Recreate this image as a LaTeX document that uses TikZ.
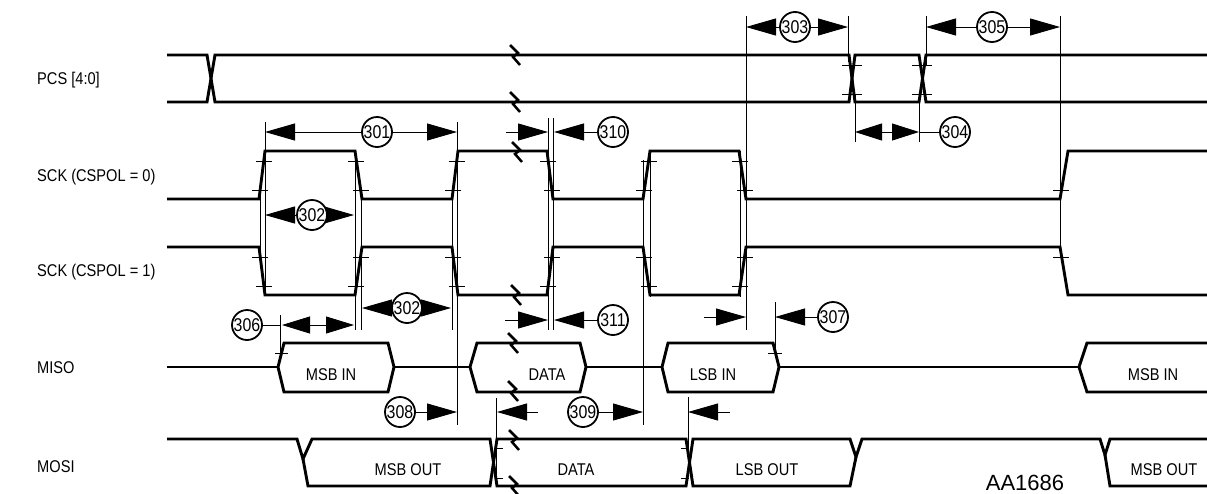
\documentclass[tikz,border=0pt]{standalone}
\usepackage{fontspec}
\setmainfont[FakeStretch=0.86]{Liberation Sans}
\newfontfamily\aafnt{Liberation Sans}
\usetikzlibrary{arrows.meta}
\newcommand{\lblfnt}{\fontsize{17}{19}\selectfont}
\newcommand{\numfnt}{\fontsize{18.5}{20}\selectfont}
\begin{document}
\begin{tikzpicture}[x=1pt,y=-1pt,
  sig/.style={line width=2.9pt},
  thinl/.style={line width=0.8pt},
  dim/.style={line width=0.9pt},
  brkl/.style={line width=2.5pt},
  tri/.tip={Triangle[length=30pt,width=17pt]},
  trs/.tip={Triangle[length=27pt,width=17pt]},
  num/.style={circle,draw,line width=1.8pt,fill=white,minimum size=30pt,inner sep=0pt,font=\numfnt},
  lbl/.style={anchor=base west,font=\lblfnt,inner sep=0pt},
  txt/.style={anchor=base,font=\lblfnt,inner sep=0pt}
]
\useasboundingbox (0,0) rectangle (1207,493);

% labels
\node[lbl] (lpcs) at (37,84) {PCS [4:0]};
\node[lbl] (lsck0) at (37,181) {SCK (CSPOL = 0)};
\node[lbl] (lsck1) at (37,276) {SCK (CSPOL = 1)};
\node[lbl] (lmiso) at (37,373) {MISO};
\node[lbl] (lmosi) at (37,472) {MOSI};

% thin reference lines
\foreach \x/\a/\b in {260/188/258, 265/122/295, 355/151/330, 361/190/330,
  452/190/330, 457/122/425, 548/118/330, 553/118/330, 643/160/425,
  650/151/297, 740/151/297, 746/16/330, 775/302/353, 280/315/353,
  496/398/487, 688/397/477, 848/16/62, 855/94/142, 919/94/142,
  926/16/65, 1060/16/257}
  \draw[thinl] (\x,\a) -- (\x,\b);

% PCS
\draw[sig] (167,55) -- (207,55) -- (215,102) -- (849,102) -- (855,55) -- (919,55) -- (926,102) -- (1207,102);
\draw[sig] (167,102) -- (207,102) -- (215,55) -- (849,55) -- (855,102) -- (919,102) -- (926,55) -- (1207,55);
\foreach \x in {852,922} {\draw[thinl] (\x-10,65) -- (\x+10,65); \draw[thinl] (\x-10,94) -- (\x+10,94);}

% SCK CSPOL=0
\draw[sig] (167,199) -- (259,199) -- (265,151) -- (355,151) -- (362,199) -- (452,199) -- (458,151)
  -- (547,151) -- (553,199) -- (643,199) -- (650,151) -- (739,151) -- (746,199) -- (1060,199) -- (1068,151) -- (1207,151);
% SCK CSPOL=1
\draw[sig] (167,247) -- (259,247) -- (265,295) -- (355,295) -- (362,247) -- (452,247) -- (458,295)
  -- (547,295) -- (553,247) -- (643,247) -- (650,295) -- (739,295) -- (746,247) -- (1060,247) -- (1068,295) -- (1207,295);
% ticks
\foreach \x in {264,356,457,548,649,740} {\draw[thinl] (\x-8,161) -- (\x+8,161); \draw[thinl] (\x-8,286) -- (\x+8,286);}
\foreach \x in {260,361,453,552,644,745,1061} {\draw[thinl] (\x-8,190) -- (\x+8,190); \draw[thinl] (\x-8,257) -- (\x+8,257);}

% MISO
\draw[sig] (167,367) -- (278,367);
\draw[sig] (278,367) -- (284,343) -- (388,343) -- (394,367) -- (388,392) -- (284,392) -- cycle;
\draw[sig] (394,367) -- (470,367);
\draw[sig] (470,367) -- (477,343) -- (580,343) -- (586,367) -- (580,392) -- (477,392) -- cycle;
\draw[sig] (586,367) -- (662,367);
\draw[sig] (662,367) -- (668,343) -- (773,343) -- (779,367) -- (773,392) -- (668,392) -- cycle;
\draw[sig] (779,367) -- (1079,367);
\draw[sig] (1207,343) -- (1087,343) -- (1079,367) -- (1087,392) -- (1207,392);
\draw[thinl] (275,353) -- (288,353);
\draw[thinl] (768,353) -- (782,353);
\node[txt] (tmi1) at (331,380) {MSB IN};
\node[txt] (tmi2) at (547,380) {DATA};
\node[txt] (tmi3) at (713,380) {LSB IN};
\node[txt] (tmi4) at (1153,380) {MSB IN};

% MOSI
\draw[sig] (167,439) -- (297,439) -- (303,459) -- (312,439) -- (490,439) -- (497,486) -- (686,486) -- (693,439)
  -- (850,439) -- (856,457) -- (862,439) -- (1100,439) -- (1105,455) -- (1110,439) -- (1207,439);
\draw[sig] (303,459) -- (308,486) -- (490,486) -- (497,439) -- (686,439) -- (693,486) -- (850,486) -- (856,457);
\draw[sig] (1105,455) -- (1110,486) -- (1207,486);
\foreach \y in {448,478} {\draw[thinl] (495,\y) -- (503,\y); \draw[thinl] (681,\y) -- (689,\y);}
\node[txt] (tmo1) at (408,475) {MSB OUT};
\node[txt] (tmo2) at (576,475) {DATA};
\node[txt] (tmo3) at (767,475) {LSB OUT};
\node[txt] (tmo4) at (1164,475) {MSB OUT};

% breaks
\foreach \x/\y in {515/55,515/102,517/152,516/295,513/343,513/391,514/440,514/486}
  \draw[brkl] (\x-5,\y-10) -- (\x+3,\y-2) -- (\x-2,\y+2) -- (\x+5,\y+10);

% timing annotations
\node[num] (c301) at (377,132) {301};
\draw[dim,tri-] (265,132) -- (c301);
\draw[dim,-tri] (c301) -- (457,132);

\coordinate (a302a) at (265,215);
\coordinate (b302a) at (354,215);
\draw[dim,tri-tri] (a302a) -- (b302a);
\node[num] (c302a) at (312,215) {302};

\coordinate (a302b) at (362,308);
\coordinate (b302b) at (451,308);
\draw[dim,tri-tri] (a302b) -- (b302b);
\node[num] (c302b) at (407,308) {302};

\node[num] (c303) at (795,27) {303};
\draw[dim,tri-] (746,27) -- (c303);
\draw[dim,-tri] (c303) -- (848,27);

\node[num] (c304) at (955,132) {304};
\draw[dim,trs-trs] (855,132) -- (919,132);
\draw[dim] (919,132) -- (c304);

\node[num] (c305) at (992,27) {305};
\draw[dim,tri-] (926,27) -- (c305);
\draw[dim,-tri] (c305) -- (1060,27);

\node[num] (c306) at (247,325) {306};
\draw[dim] (c306) -- (280,325);
\draw[dim,{Triangle[length=28pt,width=17pt]}-{Triangle[length=28pt,width=17pt]}] (282,325) -- (354,325);

\node[num] (c307) at (833,317) {307};
\draw[dim,-tri] (c307) -- (775,317);
\coordinate (s307) at (704,317);
\draw[dim,-tri] (s307) -- (746,317);

\node[num] (c308) at (400,412) {308};
\draw[dim,-tri] (c308) -- (457,412);

\node[num] (c309) at (583,412) {309};
\draw[dim,-tri] (c309) -- (643,412);
\coordinate (s309) at (538,412);
\draw[dim,-tri] (s309) -- (497,412);

\coordinate (s688) at (730,412);
\draw[dim,-tri] (s688) -- (688,412);

\node[num] (c310) at (613,132) {310};
\draw[dim,-tri] (c310) -- (554,132);
\coordinate (s310) at (506,132);
\draw[dim,-tri] (s310) -- (548,132);

\node[num] (c311) at (613,320) {311};
\draw[dim,-tri] (c311) -- (554,320);
\coordinate (s311) at (505,320);
\draw[dim,-tri] (s311) -- (548,320);

\node[font=\aafnt\fontsize{22}{24}\selectfont,anchor=base,inner sep=0pt] (aa) at (1025,490) {AA1686};
\end{tikzpicture}
\end{document}
